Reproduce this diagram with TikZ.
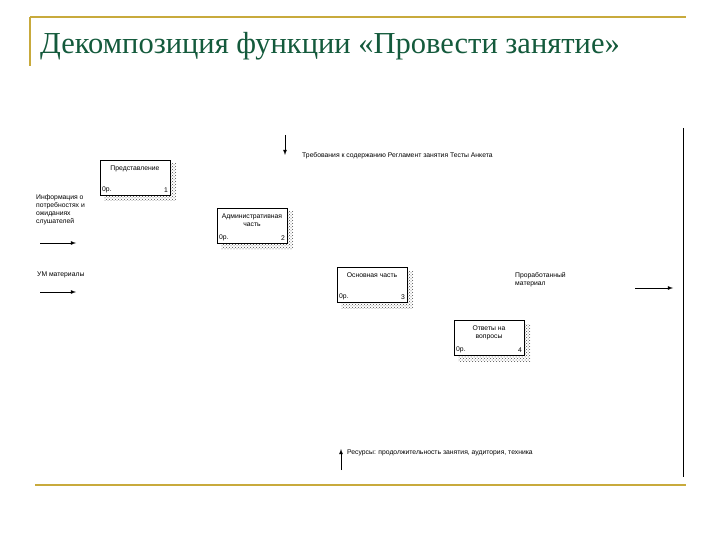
\documentclass[tikz,border=0pt]{standalone}
\usepackage{fontspec}
\setmainfont{Liberation Sans}
\newfontfamily\titlefont{Liberation Serif}
\usetikzlibrary{patterns}
\definecolor{gold}{RGB}{200,170,60}
\definecolor{tgreen}{RGB}{20,90,60}
\tikzset{
 fn/.style={draw,thick,fill=white,minimum width=70pt,minimum height=35pt,inner sep=0pt},
 shad/.style={pattern=crosshatch dots,pattern color=black!70},
 lbl/.style={font=\fontsize{6.8}{8}\selectfont,inner sep=0pt},
 arr/.style={-latex,thick},
}
\begin{document}
\begin{tikzpicture}[x=1pt,y=-1pt]
\useasboundingbox (0,0) rectangle (720,540);
\draw[gold,line width=1.5pt] (30,17) -- (686,17);
\draw[gold,line width=1.5pt] (30,17) -- (30,66);
\draw[gold,line width=1.5pt] (35,485) -- (686,485);
\node[anchor=west,text=tgreen,font=\titlefont\fontsize{30.5}{34}\selectfont,inner sep=0pt] (title) at (40,46) {Декомпозиция функции «Провести занятие»};
\draw[thick] (683,128) -- (683,477);
% boxes
\foreach \n/\x/\y/\t/\k in {1/100/160/Представление/1, 2/217/208/{Административная\\часть}/2, 3/337/267/Основная часть/3, 4/454/320/{Ответы на\\вопросы}/4}{
 \fill[shad] (\x+4,\y+4) rectangle (\x+76,\y+41);
 \node[fn,anchor=north west] (b\n) at (\x,\y) {};
 \node[lbl,align=center,anchor=north] (t\n) at (\x+35,\y+6) {\t};
 \node[lbl,anchor=south west] (o\n) at (\x+2,\y+33) {0р.};
 \node[lbl,anchor=south east] (k\n) at (\x+68,\y+33) {\k};
}
% control
\coordinate (c0) at (285,135); \coordinate (c1) at (285,155);
\draw[arr] (c0) -- (c1);
\node[lbl,anchor=west] (ctl) at (302,156) {Требования к содержанию Регламент занятия Тесты Анкета};
% inputs
\node[lbl,align=left,anchor=north west] (in1) at (36,194) {Информация о\\потребностях и\\ожиданиях\\слушателей};
\coordinate (i1a) at (40,243); \coordinate (i1b) at (76,243);
\draw[arr] (i1a) -- (i1b);
\node[lbl,anchor=west] (in2) at (37,275) {УМ материалы};
\coordinate (i2a) at (40,292); \coordinate (i2b) at (76,292);
\draw[arr] (i2a) -- (i2b);
% output
\node[lbl,align=left,anchor=north west] (out) at (515,272) {Проработанный\\материал};
\coordinate (oa) at (635,288); \coordinate (ob) at (673,288);
\draw[arr] (oa) -- (ob);
% mechanism
\coordinate (ma) at (341,470); \coordinate (mb) at (341,449);
\draw[arr] (ma) -- (mb);
\node[lbl,anchor=west] (mech) at (347,453) {Ресурсы: продолжительность занятия, аудитория, техника};
\end{tikzpicture}
\end{document}
